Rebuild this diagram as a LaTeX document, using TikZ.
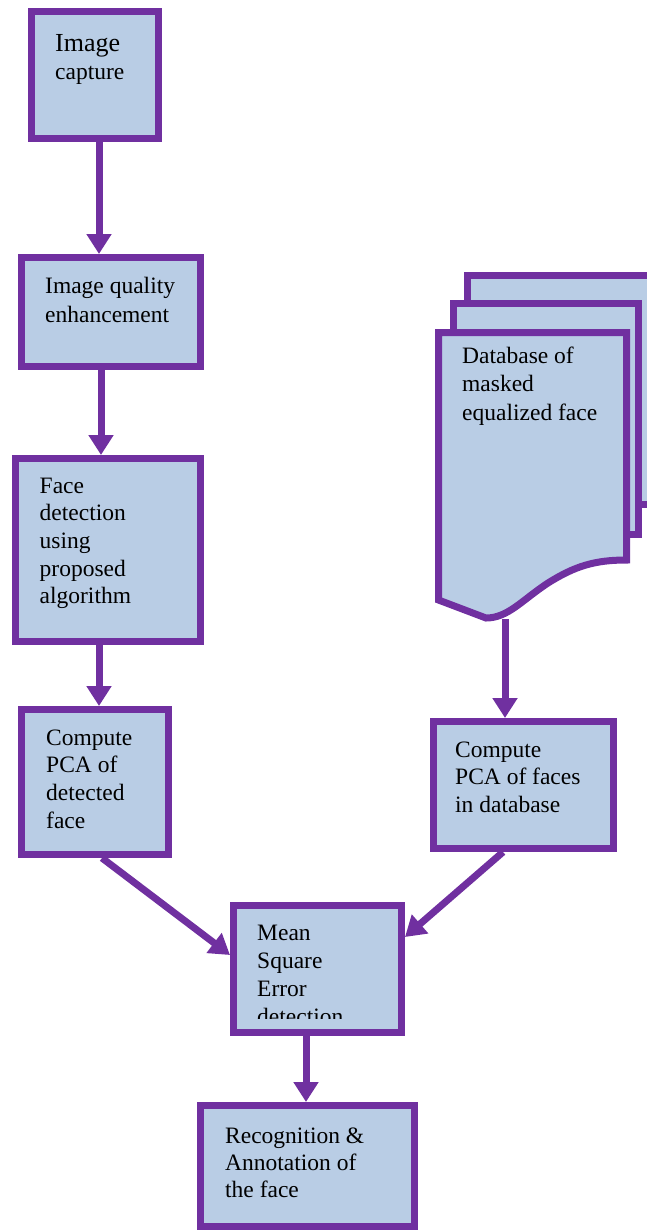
\documentclass[tikz,border=0pt]{standalone}
\usepackage{fontspec}
\setmainfont{Liberation Serif}
\newfontfamily\tnr{Liberation Serif}
\usetikzlibrary{arrows.meta}
\definecolor{pcol}{RGB}{112,48,160}
\definecolor{bcol}{RGB}{185,205,229}
\tikzset{
  box/.style={draw=pcol, fill=bcol, line width=7pt, rectangle, inner sep=0pt},
  page/.style={draw=pcol, fill=bcol, line width=7pt, line join=miter},
  txt/.style={anchor=north west, inner sep=0pt, align=left, text=black,
     font=\tnr\fontsize{23.5}{27.7}\selectfont},
  arr/.style={draw=pcol, line width=7pt, -{Triangle[length=20pt,width=24pt]}}
}
\begin{document}
\begin{tikzpicture}[x=1pt,y=-1pt]
\useasboundingbox (0,0) rectangle (647,1232);
% boxes
\node[box, minimum width=127pt, minimum height=127pt] (b1) at (95,75) {};
\node[box, minimum width=179pt, minimum height=109pt] (b2) at (111,312) {};
\node[box, minimum width=185pt, minimum height=183pt] (b3) at (108,550) {};
\node[box, minimum width=147pt, minimum height=145pt] (b4) at (95,782) {};
\node[box, minimum width=180pt, minimum height=127pt] (b6) at (523,785) {};
\node[box, minimum width=168pt, minimum height=127pt] (b7) at (317.5,969) {};
\node[box, minimum width=214pt, minimum height=121pt] (b8) at (307.5,1166) {};
% document stack
\path[page] (467.5,275.5) rectangle (665,504.5);
\path[page] (453.5,303.5) rectangle (638.5,534.5);
\path[page] (438.5,332.5) -- (626.5,332.5) -- (626.5,560)
  .. controls (595,560) and (575,566) .. (548,583)
  .. controls (522,600) and (508,618) .. (486,618) -- (438.5,600) -- cycle;
\coordinate (dbbot) at (505,619);
% texts
\node[txt] (t1) at (55,31) {\fontsize{26}{29}\selectfont\strut Image\\\fontsize{23.5}{29}\selectfont capture};
\node[txt, font=\tnr\fontsize{23.5}{29}\selectfont] (t2) at (45,272.7) {\strut Image quality\\enhancement};
\node[txt] (t3) at (39.5,473.6) {\strut Face\\detection\\using\\proposed\\algorithm};
\node[txt] (t4) at (46,725.6) {\strut Compute\\PCA of\\detected\\face};
\node[txt, font=\tnr\fontsize{23.5}{28.5}\selectfont] (db) at (462,343) {\strut Database of\\masked\\equalized face};
\node[txt] (t6) at (455,737.6) {\strut Compute\\PCA of faces\\in database};
\begin{scope}
\clip (236,908) rectangle (399,1018);
\node[txt, font=\tnr\fontsize{23.5}{28}\selectfont] (t7) at (257,920.4) {\strut Mean\\Square\\Error\\detection};
\end{scope}
\node[txt, font=\tnr\fontsize{23.5}{27}\selectfont] (t8) at (225,1124.1) {\strut Recognition \&\\Annotation of\\the face};
% connectors
\draw[arr] (b1.south -| 99,0) -- (b2.north -| 99,0);
\draw[arr] (b2.south -| 101,0) -- (b3.north -| 101,0);
\draw[arr] (b3.south -| 99,0) -- (b4.north -| 99,0);
\draw[arr] (dbbot) -- (b6.north -| 505,0);
\draw[arr] (b4.south -| 102,0) -- (b7.west |- 0,955);
\draw[arr] (b6.south -| 503,0) -- (b7.east |- 0,937);
\draw[arr] (b7.south -| 306,0) -- (b8.north -| 306,0);
\end{tikzpicture}
\end{document}
